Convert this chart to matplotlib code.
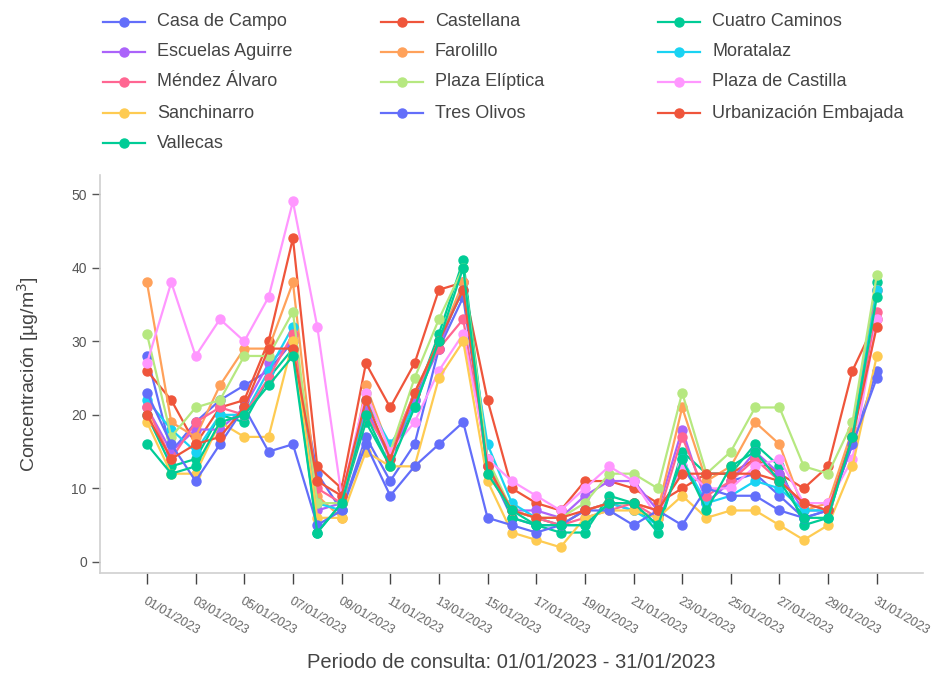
import matplotlib
matplotlib.use("Agg")
import matplotlib.pyplot as plt
from matplotlib.lines import Line2D

plt.rcParams["font.family"] = ["Liberation Sans", "DejaVu Sans"]

# fechas del periodo (01/01/2023 - 31/01/2023)
dias = list(range(1, 32))
etiquetas = [f"{d:02d}/01/2023" for d in dias]

# concentraciones diarias por estación (µg/m³)
casa_de_campo = [28, 15, 19, 22, 24, 26, 30, 12, 7, 17, 11, 16, 29, 36, 13, 6, 5, 5, 7, 8, 7, 6, 13, 8, 11, 12, 9, 6, 7, 16, 26]
castellana = [26, 22, 16, 21, 22, 30, 44, 13, 10, 27, 21, 27, 37, 38, 22, 10, 8, 7, 11, 11, 10, 8, 10, 12, 12, 14, 12, 10, 13, 26, 33]
cuatro_caminos = [20, 13, 14, 20, 19, 25, 29, 4, 8, 19, 13, 22, 31, 41, 14, 6, 5, 4, 4, 9, 8, 4, 15, 12, 12, 16, 13, 5, 6, 17, 38]
escuelas_aguirre = [21, 15, 18, 18, 21, 27, 30, 7, 8, 21, 14, 22, 29, 38, 13, 7, 7, 6, 9, 11, 11, 7, 18, 8, 11, 15, 12, 7, 7, 16, 37]
farolillo = [38, 19, 17, 24, 29, 29, 38, 9, 6, 24, 15, 23, 30, 38, 12, 7, 6, 5, 7, 8, 8, 7, 21, 11, 13, 19, 16, 7, 8, 18, 37]
moratalaz = [22, 18, 15, 20, 20, 26, 32, 8, 7, 22, 16, 21, 30, 37, 16, 8, 6, 5, 5, 8, 7, 5, 14, 8, 9, 11, 10, 7, 7, 17, 37]
mendez_alvaro = [21, 14, 19, 21, 20, 25, 31, 10, 8, 20, 15, 23, 29, 33, 13, 7, 6, 5, 6, 7, 8, 6, 17, 9, 11, 14, 11, 8, 7, 17, 34]
plaza_eliptica = [31, 17, 21, 22, 28, 28, 34, 8, 8, 23, 15, 25, 33, 40, 14, 7, 6, 6, 8, 12, 12, 10, 23, 12, 15, 21, 21, 13, 12, 19, 39]
plaza_castilla = [27, 38, 28, 33, 30, 36, 49, 32, 9, 23, 15, 19, 26, 31, 14, 11, 9, 7, 10, 13, 11, 6, 13, 10, 10, 13, 14, 8, 8, 14, 33]
sanchinarro = [19, 12, 12, 19, 17, 17, 30, 6, 6, 15, 13, 13, 25, 30, 11, 4, 3, 2, 6, 7, 7, 6, 9, 6, 7, 7, 5, 3, 5, 13, 28]
tres_olivos = [23, 16, 11, 16, 21, 15, 16, 5, 7, 16, 9, 13, 16, 19, 6, 5, 4, 5, 7, 7, 5, 7, 5, 10, 9, 9, 7, 6, 7, 16, 25]
urb_embajada = [20, 14, 16, 17, 21, 29, 29, 11, 9, 22, 14, 23, 30, 37, 13, 7, 6, 6, 7, 8, 8, 7, 12, 12, 12, 12, 11, 8, 7, 17, 32]
vallecas = [16, 12, 13, 19, 20, 24, 28, 4, 8, 20, 13, 21, 30, 40, 12, 7, 5, 5, 5, 8, 8, 5, 14, 7, 13, 15, 11, 6, 6, 17, 36]

estaciones = [
    ("Casa de Campo", casa_de_campo, "#636EFA"),
    ("Castellana", castellana, "#EF553B"),
    ("Cuatro Caminos", cuatro_caminos, "#00CC96"),
    ("Escuelas Aguirre", escuelas_aguirre, "#AB63FA"),
    ("Farolillo", farolillo, "#FFA15A"),
    ("Moratalaz", moratalaz, "#19D3F3"),
    ("Méndez Álvaro", mendez_alvaro, "#FF6692"),
    ("Plaza Elíptica", plaza_eliptica, "#B6E880"),
    ("Plaza de Castilla", plaza_castilla, "#FF97FF"),
    ("Sanchinarro", sanchinarro, "#FECB52"),
    ("Tres Olivos", tres_olivos, "#636EFA"),
    ("Urbanización Embajada", urb_embajada, "#EF553B"),
    ("Vallecas", vallecas, "#00CC96"),
]

W, H = 932, 675
fig = plt.figure(figsize=(W / 100, H / 100), dpi=100)
ax = fig.add_axes([100 / W, 1 - 573 / H, (923 - 100) / W, (573 - 175) / H])

for nombre, valores, color in estaciones:
    ax.plot(dias, valores, color=color, lw=1.6, marker="o", ms=6.5,
            label=nombre, solid_joinstyle="round")

ax.set_xlim(-0.93, 32.9)
ax.set_ylim(-1.5, 52.6)
ax.set_yticks(range(0, 51, 10))
ax.set_xticks(dias[::2])
ax.set_xticklabels(etiquetas[::2], rotation=-30, ha="left", va="top",
                   rotation_mode="anchor", fontsize=9, color="#555555")
ax.tick_params(axis="y", labelsize=10, colors="#555555", length=6, width=1)
ax.tick_params(axis="x", length=8, width=1, colors="#444444", pad=8)
for lbl in ax.get_xticklabels():
    lbl.set_color("#666666")
for s in ["top", "right"]:
    ax.spines[s].set_visible(False)
for s in ["left", "bottom"]:
    ax.spines[s].set_color("#d0d0d0")
    ax.spines[s].set_linewidth(1.2)

ax.set_ylabel("Concentración [µg/m$^3$]", fontsize=14, color="#444444", labelpad=22)
fig.text(511 / W, 1 - 663 / H, "Periodo de consulta: 01/01/2023 - 31/01/2023",
         ha="center", va="center", fontsize=14.5, color="#444444")

# leyenda manual en 3 columnas (orden por filas)
col_x = [124, 402, 679]
fila_y = [22, 52, 82, 113, 143]
for i, (nombre, valores, color) in enumerate(estaciones):
    cx = col_x[i % 3]
    cy = 1 - fila_y[i // 3] / H
    fig.add_artist(Line2D([(cx - 21) / W, (cx + 21) / W], [cy, cy],
                          color=color, lw=1.6, transform=fig.transFigure))
    fig.add_artist(Line2D([cx / W], [cy], color=color, marker="o", ms=6.5,
                          transform=fig.transFigure))
    fig.text((cx + 33) / W, cy, nombre, ha="left", va="center",
             fontsize=13, color="#444444")

fig.savefig("out.png", dpi=100)
